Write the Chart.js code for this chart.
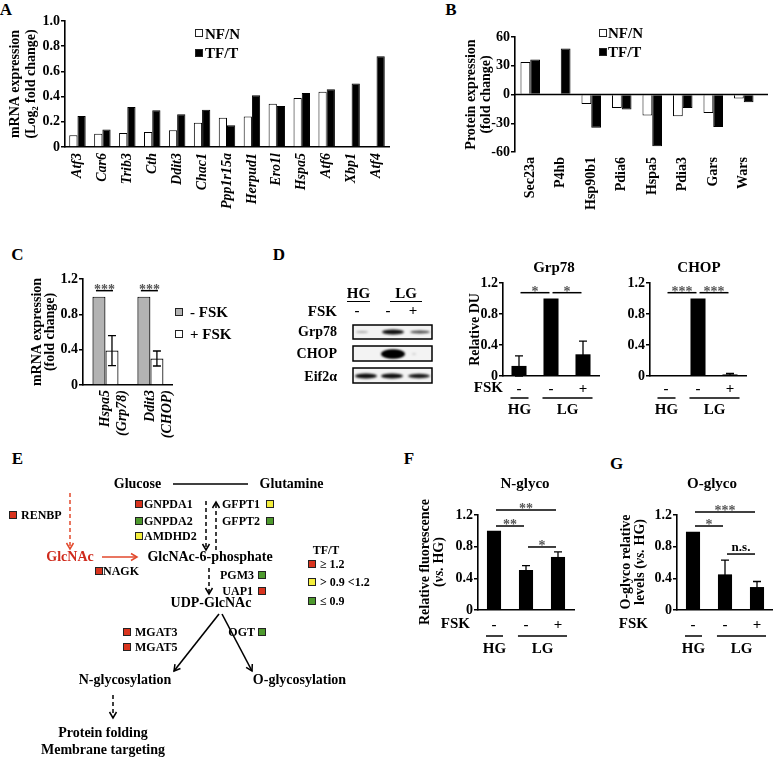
<!DOCTYPE html>
<html><head><meta charset="utf-8">
<script src="https://cdn.jsdelivr.net/npm/chart.js@4.4.1/dist/chart.umd.min.js"></script>
<style>
html,body{margin:0;padding:0;background:#fff;}
body{width:773px;height:758px;overflow:hidden;position:relative;font-family:'Liberation Serif','Times New Roman',serif;font-weight:bold;color:#000;}
.abs{position:absolute;white-space:nowrap;line-height:1;}
canvas{position:absolute;}
.sq{position:absolute;width:6px;height:6px;border:1px solid #222;}
.hl{position:absolute;height:0;border-top:1.5px solid #000;}
svg{position:absolute;left:0;top:0;}
</style></head><body>
<script>
// ---------------- DATA ----------------
// Panel A : mRNA expression (Log2 fold change)
const aGenes = ['Atf3','Car6','Trib3','Cth','Ddit3','Chac1','Ppp1r15a','Herpud1','Ero1l','Hspa5','Atf6','Xbp1','Atf4'];
const aNFN   = [0.093,0.106,0.111,0.119,0.132,0.193,0.233,0.243,0.344,0.389,0.439,null,null];
const aTFT   = [0.246,0.138,0.317,0.291,0.259,0.296,0.172,0.410,0.325,0.429,0.458,0.503,0.720];
// Panel B : protein expression (fold change)
const bProteins = ['Sec23a','P4hb','Hsp90b1','Pdia6','Hspa5','Pdia3','Gars','Wars'];
const bNFN = [33.8,null,-9.8,-14.0,-22.0,-22.7,-19.2,-4.2];
const bTFT = [36.6,48.0,-34.8,-15.7,-54.0,-14.0,-33.8,-8.0];
// Panel C : mRNA expression (fold change)
const cGenes = [['Hspa5','(Grp78)'],['Ddit3','(CHOP)']];
const cMinusFSK = [1.0,1.0];
const cPlusFSK  = [0.39,0.30];
const cPlusErr  = [0.17,0.085];
const cSig = [{gene:0,y:1.068,text:'***'},{gene:1,y:1.068,text:'***'}];
// Panel D : relative DU
const dLanes = ['-','-','+'];
const dGroups = [{from:0,to:0,text:'HG'},{from:1,to:2,text:'LG'}];
const dGrp78 = [0.13,1.0,0.28];
const dGrp78Err = [0.13,0,0.17];
const dGrp78Sig = [{a:0,b:1,y:1.075,text:'*'},{a:1,b:2,y:1.075,text:'*'}];
const dCHOP = [0.005,1.0,0.02];
const dCHOPErr = [0,0,0.012];
const dCHOPSig = [{a:0,b:1,y:1.075,text:'***'},{a:1,b:2,y:1.075,text:'***'}];
// Panel F / G
const fNglyco = [1.0,0.505,0.67];
const fErr = [0,0.055,0.065];
const fSig = [{a:0,b:2,y:1.263,text:'**'},{a:0,b:1,y:1.061,text:'**'},{a:1,b:2,y:0.796,text:'*'}];
const gOglyco = [0.99,0.45,0.29];
const gErr = [0,0.18,0.07];
const gSig = [{a:0,b:2,y:1.238,text:'***'},{a:0,b:1,y:1.061,text:'*'},{a:1,b:2,y:0.707,text:'n.s.'}];

// ---------------- HELPERS ----------------
const FAM = "'Liberation Serif','Times New Roman',serif";
Chart.defaults.font.family = FAM;
Chart.defaults.font.weight = 'bold';
Chart.defaults.font.size = 14;
Chart.defaults.color = '#000';
Chart.defaults.animation = false;

function T(x, y, html, size, o) {
  o = o || {};
  const d = document.createElement('div'); d.className = 'abs';
  d.innerHTML = html; d.style.fontSize = size + 'px';
  const al = o.align || 'center';
  const tx = al === 'left' ? '0' : al === 'right' ? '-100%' : '-50%';
  d.style.left = x + 'px'; d.style.top = y + 'px';
  d.style.transform = 'translate(' + tx + ',-50%)' + (o.rot ? ' rotate(' + o.rot + 'deg)' : '');
  if (o.color) d.style.color = o.color;
  if (o.lh) d.style.lineHeight = o.lh;
  if (o.ta) d.style.textAlign = o.ta;
  document.body.appendChild(d);
  return d;
}
function SQ(x, y, color) {
  const d = document.createElement('div'); d.className = 'sq';
  d.style.left = x + 'px'; d.style.top = y + 'px'; d.style.background = color;
  document.body.appendChild(d);
}
function HL(x1, x2, y) {
  const d = document.createElement('div'); d.className = 'hl';
  d.style.left = x1 + 'px'; d.style.top = y + 'px'; d.style.width = (x2 - x1) + 'px';
  document.body.appendChild(d);
}

function makeChart(box, area, cfg) {
  const c = document.createElement('canvas');
  c.width = box.w; c.height = box.h;
  c.style.left = box.x + 'px'; c.style.top = box.y + 'px';
  c.style.width = box.w + 'px'; c.style.height = box.h + 'px';
  document.body.appendChild(c);
  const o = cfg.options;
  o.responsive = false; o.animation = false; o.devicePixelRatio = 1;
  o.layout = {padding: {left: 0, top: area.t - box.y, right: box.x + box.w - area.r, bottom: 0}};
  o.scales.y.afterFit = s => { s.width = area.l - box.x; };
  o.scales.x.afterFit = s => { s.height = box.y + box.h - area.b; };
  o.plugins = Object.assign({legend: {display: false}, tooltip: {enabled: false}}, o.plugins || {});
  return new Chart(c, cfg);
}
const fmt1 = v => (Math.abs(v) < 1e-9 ? '0' : v.toFixed(1));
const fmtInt = v => String(Math.round(v));
function yLin(min, max, step, fmt, title) {
  return {
    min: min, max: max,
    ticks: {stepSize: step, padding: 1, font: {size: 14, weight: 'bold'}, callback: fmt},
    grid: {drawOnChartArea: false, drawTicks: true, tickLength: 4, color: '#000', tickColor: '#000', lineWidth: 1.5},
    border: {display: true, color: '#000', width: 1.6},
    title: title || {display: false}
  };
}
function yTitle(text, pad, size, lh) {
  return {display: true, text: text, font: {size: size, weight: 'bold', lineHeight: lh}, padding: {top: pad, bottom: 0}};
}
function xCat(rot, italic, size, pad, border) {
  return {
    ticks: {minRotation: rot, maxRotation: rot, autoSkip: false, padding: pad,
            font: {size: size, weight: 'bold', style: italic ? 'italic' : 'normal'}},
    grid: {display: false, drawTicks: false},
    border: {display: border, color: '#000', width: 1.6}
  };
}
// error bars from dataset value +/- error, via the y scale
function errPlugin(dsIndex, errs) {
  return {id: 'err', afterDatasetsDraw(chart) {
    const ctx = chart.ctx, y = chart.scales.y, meta = chart.getDatasetMeta(dsIndex);
    const vals = chart.data.datasets[dsIndex].data;
    ctx.save(); ctx.strokeStyle = '#000'; ctx.lineWidth = 1.3;
    errs.forEach((e, i) => {
      if (!e) return;
      const x = meta.data[i].x, v = vals[i];
      const yt = y.getPixelForValue(v + e), yb = y.getPixelForValue(v - e);
      ctx.beginPath();
      ctx.moveTo(x, yt); ctx.lineTo(x, yb);
      ctx.moveTo(x - 4, yt); ctx.lineTo(x + 4, yt);
      ctx.moveTo(x - 4, yb); ctx.lineTo(x + 4, yb);
      ctx.stroke();
    });
    ctx.restore();
  }};
}
// significance bars: list of {x1,x2 (pixel getters), y, text}
function sigPlugin(getItems) {
  return {id: 'sig', afterDraw(chart) {
    const ctx = chart.ctx, y = chart.scales.y;
    ctx.save(); ctx.strokeStyle = '#000'; ctx.lineWidth = 1.5;
    getItems(chart).forEach(it => {
      const py = y.getPixelForValue(it.y);
      ctx.beginPath(); ctx.moveTo(it.x1, py); ctx.lineTo(it.x2, py); ctx.stroke();
      ctx.textAlign = 'center';
      if (it.text === 'n.s.') {
        ctx.fillStyle = '#000'; ctx.font = "bold 13px " + FAM; ctx.textBaseline = 'alphabetic';
        ctx.fillText(it.text, (it.x1 + it.x2) / 2, py - 3);
      } else {
        ctx.fillStyle = '#555'; ctx.font = "bold 14px " + FAM; ctx.textBaseline = 'alphabetic';
        ctx.fillText(it.text, (it.x1 + it.x2) / 2, py + 3);
      }
    });
    ctx.restore();
  }};
}
function laneSig(list, inset) {
  return chart => {
    const m = chart.getDatasetMeta(0).data;
    return list.map(s => ({x1: m[s.a].x + inset, x2: m[s.b].x - inset, y: s.y, text: s.text}));
  };
}
// FSK row label and HG/LG group labels
function groupPlugin(groups, o) {
  return {id: 'grp', afterDraw(chart) {
    const ctx = chart.ctx, ca = chart.chartArea, m = chart.getDatasetMeta(0).data;
    ctx.save(); ctx.fillStyle = '#000'; ctx.strokeStyle = '#000'; ctx.lineWidth = 1.5;
    ctx.textBaseline = 'middle';
    if (o.fskGap != null) {
      ctx.font = "bold 15px " + FAM; ctx.textAlign = 'right';
      ctx.fillText('FSK', ca.left - o.fskGap, ca.bottom + o.tickOff);
    }
    ctx.font = "bold 15px " + FAM; ctx.textAlign = 'center';
    groups.forEach(g => {
      const a = m[g.from], b = m[g.to];
      const x1 = a.x - a.width / 2 - 1, x2 = b.x + b.width / 2 + 2;
      const yl = ca.bottom + o.lineOff;
      ctx.beginPath(); ctx.moveTo(x1, yl); ctx.lineTo(x2, yl); ctx.stroke();
      ctx.fillText(g.text, (x1 + x2) / 2, ca.bottom + o.textOff);
    });
    ctx.restore();
  }};
}
const zeroPlugin = {id: 'zero', afterDatasetsDraw(chart) {
  const ctx = chart.ctx, ca = chart.chartArea, py = chart.scales.y.getPixelForValue(0);
  ctx.save(); ctx.strokeStyle = '#000'; ctx.lineWidth = 1.5;
  ctx.beginPath(); ctx.moveTo(ca.left, py); ctx.lineTo(ca.right + 9, py); ctx.stroke();
  ctx.restore();
}};

// ---------------- PANEL LETTERS ----------------
[['A',6,8.5],['B',451,8.5],['C',17.5,253.5],['D',279,254],['E',17.5,457.5],['F',409,457.5],['G',616.5,462.5]]
  .forEach(p => T(p[1], p[2], p[0], 17));

// ---------------- PANEL A ----------------
makeChart({x: 0, y: 0, w: 400, h: 215}, {l: 65, t: 21, r: 389, b: 147}, {
  type: 'bar',
  data: {labels: aGenes, datasets: [
    {label: 'NF/N', data: aNFN, backgroundColor: '#fff', borderColor: '#000', borderWidth: 1, categoryPercentage: 0.66, barPercentage: 1},
    {label: 'TF/T', data: aTFT, backgroundColor: '#000', borderColor: '#000', borderWidth: 1, categoryPercentage: 0.66, barPercentage: 1}]},
  options: {scales: {
    x: xCat(90, true, 14, 6, true),
    y: yLin(0, 1.0, 0.2, fmt1, yTitle(['mRNA expression', '(Log₂ fold change)'], 7, 14, 1.15))}}
});
SQ(195, 29, '#fff'); T(205, 33.5, 'NF/N', 15, {align: 'left'});
SQ(195, 49, '#000'); T(205, 53, 'TF/T', 15, {align: 'left'});

// ---------------- PANEL B ----------------
makeChart({x: 440, y: 20, w: 340, h: 190}, {l: 515, t: 37, r: 759, b: 152}, {
  type: 'bar',
  data: {labels: bProteins, datasets: [
    {label: 'NF/N', data: bNFN, backgroundColor: '#fff', borderColor: '#000', borderWidth: 1, categoryPercentage: 0.64, barPercentage: 1},
    {label: 'TF/T', data: bTFT, backgroundColor: '#000', borderColor: '#000', borderWidth: 1, categoryPercentage: 0.64, barPercentage: 1}]},
  options: {scales: {
    x: xCat(90, false, 14, 5, false),
    y: yLin(-60, 60, 30, fmtInt, yTitle(['Protein expression', '(fold change)'], 23.5, 14, 1.07))}},
  plugins: [zeroPlugin]
});
SQ(599, 29, '#fff'); T(608, 33, 'NF/N', 15, {align: 'left'});
SQ(599, 48, '#000'); T(608, 52, 'TF/T', 15, {align: 'left'});

// ---------------- PANEL C ----------------
makeChart({x: 0, y: 260, w: 192, h: 190}, {l: 83, t: 279, r: 180, b: 385}, {
  type: 'bar',
  data: {labels: cGenes, datasets: [
    {label: '- FSK', data: cMinusFSK, backgroundColor: '#b3b3b3', borderColor: '#000', borderWidth: 1.2, categoryPercentage: 0.58, barPercentage: 1},
    {label: '+ FSK', data: cPlusFSK, backgroundColor: '#fff', borderColor: '#000', borderWidth: 1.2, categoryPercentage: 0.58, barPercentage: 1}]},
  options: {scales: {
    x: xCat(90, true, 14, 5, true),
    y: yLin(0, 1.2, 0.4, fmt1, yTitle(['mRNA expression', '(fold change)'], 30.3, 14, 0.95))}},
  plugins: [errPlugin(1, cPlusErr), sigPlugin(chart => {
    const m0 = chart.getDatasetMeta(0).data, m1 = chart.getDatasetMeta(1).data;
    return cSig.map(s => ({x1: m0[s.gene].x - 3, x2: m1[s.gene].x + 1, y: s.y, text: s.text}));
  })]
});
SQ(175, 308, '#b3b3b3'); T(190, 312, '- FSK', 15, {align: 'left'});
SQ(175, 330, '#fff'); T(190, 334, '+ FSK', 15, {align: 'left'});

// ---------------- PANEL D : blot ----------------
(function () {
  const c = document.createElement('canvas');
  c.width = 773; c.height = 400; c.style.left = '0px'; c.style.top = '0px';
  document.body.appendChild(c);
  const ctx = c.getContext('2d');
  const boxes = [[325, 339], [346, 361], [368, 383]];
  boxes.forEach(b => {
    ctx.fillStyle = '#f3f3f3'; ctx.fillRect(353, b[0], 79, b[1] - b[0]);
  });
  function band(cx, cy, w, h, a) {
    ctx.save(); ctx.filter = 'blur(1.3px)'; ctx.fillStyle = 'rgba(0,0,0,' + a + ')';
    ctx.beginPath(); ctx.ellipse(cx, cy, w / 2, h / 2, 0, 0, Math.PI * 2); ctx.fill(); ctx.restore();
  }
  band(362, 332, 12, 2, 0.3); band(393, 332, 22, 5, 0.95); band(420, 332, 20, 3, 0.7);
  band(393, 354, 24, 9, 1.0); band(393, 354, 20, 7, 1.0); band(414, 354, 4, 2, 0.15);
  band(366, 376, 22, 5, 0.95); band(392, 376, 22, 5, 0.95); band(419, 376, 22, 4.5, 0.9);
  ctx.strokeStyle = '#000'; ctx.lineWidth = 1.5;
  boxes.forEach(b => ctx.strokeRect(353, b[0], 79, b[1] - b[0]));
})();
T(358.5, 293, 'HG', 15); HL(347, 370, 301);
T(406, 293, 'LG', 15); HL(390, 422, 301);
T(337, 311, 'FSK', 15, {align: 'right'});
T(357, 310, '-', 15); T(388, 310, '-', 15); T(413, 310, '+', 15);
T(337, 332, 'Grp78', 14, {align: 'right'});
T(337, 354, 'CHOP', 14, {align: 'right'});
T(337, 377, 'Eif2α', 14, {align: 'right'});

// ---------------- PANEL D : Grp78 ----------------
T(554, 267, 'Grp78', 15);
makeChart({x: 460, y: 262, w: 150, h: 160}, {l: 503, t: 283, r: 599, b: 376}, {
  type: 'bar',
  data: {labels: dLanes, datasets: [{label: 'Grp78', data: dGrp78, backgroundColor: '#000', categoryPercentage: 1, barPercentage: 0.47}]},
  options: {scales: {x: xCat(0, false, 15, 4, true), y: yLin(0, 1.2, 0.4, fmt1, yTitle('Relative DU', 7.3, 14, 1.1))}},
  plugins: [errPlugin(0, dGrp78Err), sigPlugin(laneSig(dGrp78Sig, 1.5)), groupPlugin(dGroups, {fskGap: 0, tickOff: 12, lineOff: 22, textOff: 34})]
});

// ---------------- PANEL D : CHOP ----------------
T(699, 267, 'CHOP', 15);
makeChart({x: 620, y: 262, w: 140, h: 160}, {l: 650, t: 283, r: 746, b: 376}, {
  type: 'bar',
  data: {labels: dLanes, datasets: [{label: 'CHOP', data: dCHOP, backgroundColor: '#000', categoryPercentage: 1, barPercentage: 0.47}]},
  options: {scales: {x: xCat(0, false, 15, 4, true), y: yLin(0, 1.2, 0.4, fmt1)}},
  plugins: [errPlugin(0, dCHOPErr), sigPlugin(laneSig(dCHOPSig, 1.5)), groupPlugin(dGroups, {tickOff: 12, lineOff: 22, textOff: 34})]
});

// ---------------- PANEL E : pathway ----------------
(function () {
  const ns = 'http://www.w3.org/2000/svg';
  const svg = document.createElementNS(ns, 'svg');
  svg.setAttribute('width', 773); svg.setAttribute('height', 758);
  svg.innerHTML =
    '<defs>' +
    '<marker id="ah" markerUnits="userSpaceOnUse" markerWidth="10" markerHeight="10" refX="8" refY="5" orient="auto"><path d="M2,1.5 L8,5 L2,8.5" fill="none" stroke="#000" stroke-width="1.5"/></marker>' +
    '<marker id="ahr" markerUnits="userSpaceOnUse" markerWidth="10" markerHeight="10" refX="8" refY="5" orient="auto"><path d="M2,1.5 L8,5 L2,8.5" fill="none" stroke="#e2492c" stroke-width="1.5"/></marker>' +
    '</defs>' +
    '<line x1="173" y1="484" x2="248" y2="484" stroke="#000" stroke-width="1.5"/>' +
    '<line x1="206" y1="501" x2="206" y2="550" stroke="#000" stroke-width="1.5" stroke-dasharray="4,3" marker-end="url(#ah)"/>' +
    '<line x1="216" y1="550" x2="216" y2="502" stroke="#000" stroke-width="1.5" stroke-dasharray="4,3" marker-end="url(#ah)"/>' +
    '<line x1="70" y1="493" x2="70" y2="549" stroke="#e2492c" stroke-width="1.5" stroke-dasharray="4,3" marker-end="url(#ahr)"/>' +
    '<line x1="102" y1="557" x2="137" y2="557" stroke="#e2492c" stroke-width="1.5" marker-end="url(#ahr)"/>' +
    '<line x1="209" y1="568" x2="209" y2="594" stroke="#000" stroke-width="1.5" stroke-dasharray="4,3" marker-end="url(#ah)"/>' +
    '<line x1="219" y1="614" x2="174" y2="671" stroke="#000" stroke-width="1.6" marker-end="url(#ah)"/>' +
    '<line x1="222" y1="614" x2="252" y2="671" stroke="#000" stroke-width="1.6" marker-end="url(#ah)"/>' +
    '<line x1="113" y1="695" x2="113" y2="718" stroke="#000" stroke-width="1.5" stroke-dasharray="4,3" marker-end="url(#ah)"/>';
  document.body.appendChild(svg);
})();
const RED = '#d9341e', GRN = '#4e9a2e', YEL = '#f4ee3c';
T(137.5, 484, 'Glucose', 14);
T(291.5, 484, 'Glutamine', 14);
SQ(135, 500, RED); T(144, 504, 'GNPDA1', 12, {align: 'left'});
SQ(135, 517, GRN); T(144, 521, 'GNPDA2', 12, {align: 'left'});
SQ(135, 532, YEL); T(144, 536, 'AMDHD2', 12, {align: 'left'});
T(222, 504, 'GFPT1', 12, {align: 'left'}); SQ(266, 500, YEL);
T(222, 521, 'GFPT2', 12, {align: 'left'}); SQ(266, 517, GRN);
SQ(9, 511, RED); T(21, 515, 'RENBP', 12, {align: 'left'});
T(70, 557, 'GlcNAc', 14, {color: '#cf2a1c'});
T(210, 557, 'GlcNAc-6-phosphate', 14);
SQ(95, 567, RED); T(103, 571, 'NAGK', 12, {align: 'left'});
T(254, 575, 'PGM3', 12, {align: 'right'}); SQ(258, 571, GRN);
T(253, 591, 'UAP1', 12, {align: 'right'}); SQ(258, 587, RED);
T(326, 550, 'TF/T', 12);
SQ(308, 560, RED); T(320, 564, '≥ 1.2', 12, {align: 'left'});
SQ(308, 578, YEL); T(320, 582, '&gt; 0.9 &lt;1.2', 12, {align: 'left'});
SQ(308, 597, GRN); T(320, 601, '≤ 0.9', 12, {align: 'left'});
T(211, 603, 'UDP-GlcNAc', 14);
SQ(123, 628, RED); T(135, 632, 'MGAT3', 12, {align: 'left'});
SQ(123, 643, RED); T(135, 647, 'MGAT5', 12, {align: 'left'});
T(255, 632, 'OGT', 12, {align: 'right'}); SQ(258, 628, GRN);
T(125, 680, 'N-glycosylation', 14);
T(299.5, 680, 'O-glycosylation', 14);
T(103, 733, 'Protein folding', 14);
T(103, 750, 'Membrane targeting', 14);

// ---------------- PANEL F ----------------
T(525, 483, 'N-glyco', 15);
T(430.5, 562, 'Relative fluorescence<br>(<i>vs.</i> HG)', 14, {rot: -90, lh: '13.5px', ta: 'center'});
makeChart({x: 440, y: 492, w: 145, h: 175}, {l: 478, t: 515, r: 574, b: 610}, {
  type: 'bar',
  data: {labels: dLanes, datasets: [{label: 'N-glyco', data: fNglyco, backgroundColor: '#000', categoryPercentage: 1, barPercentage: 0.44}]},
  options: {scales: {x: xCat(0, false, 15, 6, true), y: yLin(0, 1.2, 0.4, fmt1)}},
  plugins: [errPlugin(0, fErr), sigPlugin(laneSig(fSig, 2)), groupPlugin(dGroups, {fskGap: 8, tickOff: 14, lineOff: 26, textOff: 39})]
});

// ---------------- PANEL G ----------------
T(712, 483, 'O-glyco', 15);
T(632, 562, 'O-glyco relative<br>levels (<i>vs.</i> HG)', 14, {rot: -90, lh: '13.5px', ta: 'center'});
makeChart({x: 612, y: 492, w: 176, h: 175}, {l: 677, t: 515, r: 773, b: 610}, {
  type: 'bar',
  data: {labels: dLanes, datasets: [{label: 'O-glyco', data: gOglyco, backgroundColor: '#000', categoryPercentage: 1, barPercentage: 0.44}]},
  options: {scales: {x: xCat(0, false, 15, 6, true), y: yLin(0, 1.2, 0.4, fmt1)}},
  plugins: [errPlugin(0, gErr), sigPlugin(laneSig(gSig, 2)), groupPlugin(dGroups, {fskGap: 29, tickOff: 14, lineOff: 26, textOff: 39})]
});
</script>
</body></html>
